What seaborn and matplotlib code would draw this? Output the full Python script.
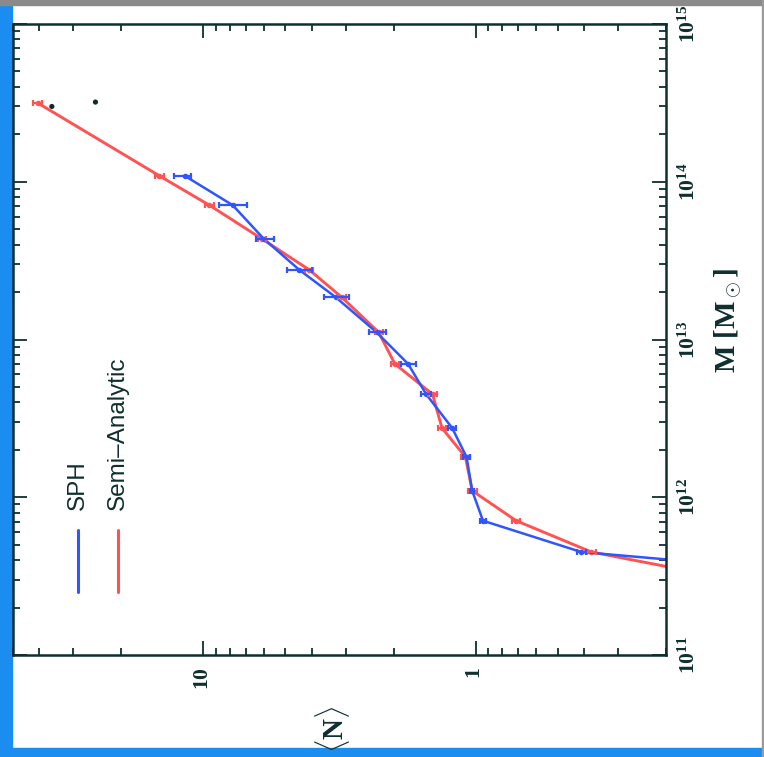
import matplotlib
matplotlib.use("Agg")
import matplotlib.pyplot as plt
from matplotlib.patches import Rectangle
from matplotlib.lines import Line2D
from matplotlib.ticker import FixedLocator, FixedFormatter, LogLocator, NullFormatter
import numpy as np
import pandas as pd
import seaborn as sns

# Halo mass bins [M_sun] (shared by both models)
mass = [3.16e14, 1.09e14, 7.1e13, 4.35e13, 2.77e13, 1.85e13, 1.11e13, 7.0e12,
        4.5e12, 2.75e12, 1.8e12, 1.1e12, 7.1e11, 4.5e11, 3.0e11]

# Mean number of galaxies per halo, semi-analytic model
n_sa = [40.6, 14.5, 9.5, 6.1, 4.09, 3.1, 2.27, 1.98, 1.44, 1.33, 1.09, 1.03,
        0.71, 0.376, 0.112]
n_sa_err = [1.5, 0.5, 0.35, 0.22, 0.15, 0.11, 0.08, 0.07, 0.05, 0.05, 0.04,
            0.04, 0.025, 0.013, 0.004]

# Mean number of galaxies per halo, SPH simulation (no top bin)
mass_sph = mass[1:]
n_sph = [11.7, 7.8, 6.0, 4.45, 3.26, 2.31, 1.77, 1.52, 1.22, 1.08, 1.03, 0.94,
         0.41, 0.028]
n_sph_lo = [0.63, 0.9, 0.5, 0.46, 0.34, 0.17, 0.11, 0.06, 0.04, 0.03, 0.02,
            0.02, 0.015, 0.001]
n_sph_hi = [1.07, 0.95, 0.4, 0.47, 0.34, 0.16, 0.11, 0.07, 0.04, 0.03, 0.02,
            0.02, 0.015, 0.001]

# Individual most-massive haloes
mass_single = [3.0e14, 3.2e14]
n_single = [36.0, 24.9]

m_ticks = [1e11, 1e12, 1e13, 1e14, 1e15]
m_tick_labels = [r"$10^{11}$", r"$10^{12}$", r"$10^{13}$", r"$10^{14}$", r"$10^{15}$"]
n_ticks = [1, 10]
n_tick_labels = [r"$1$", r"$10$"]

RED = "#ff5252"
BLUE = "#2f55ff"
INK = "#0f2e2e"

sns.set_theme(style="white")
plt.rcParams["font.family"] = ["Liberation Serif", "DejaVu Serif"]
plt.rcParams["mathtext.fontset"] = "custom"
plt.rcParams["mathtext.rm"] = "Liberation Serif:bold"
plt.rcParams["mathtext.it"] = "Liberation Serif:italic:bold"
plt.rcParams["mathtext.bf"] = "Liberation Serif:bold"

W, H = 764, 757
fig = plt.figure(figsize=(W / 100, H / 100), dpi=100)
fig.patch.set_facecolor("white")

# slide surround
fig.patches.append(Rectangle((0, 0), 12 / W, 1, transform=fig.transFigure,
                             color="#1b8df0", zorder=-5))
fig.patches.append(Rectangle((0, 0), 1, 9 / H, transform=fig.transFigure,
                             color="#1b8df0", zorder=-5))
fig.patches.append(Rectangle((0, 1 - 5 / H), 1, 5 / H, transform=fig.transFigure,
                             color="#8a8a8a", zorder=-5))
fig.patches.append(Rectangle((1 - 2 / W, 0), 2 / W, 1, transform=fig.transFigure,
                             color="#9a9a9a", zorder=-5))

ax = fig.add_axes([13 / W, 1 - 655 / H, 653 / W, 631 / H])
ax.set_facecolor("white")
ax.set_xscale("log")
ax.set_yscale("log")

df_sa = pd.DataFrame({"N": n_sa, "M": mass})
df_sph = pd.DataFrame({"N": n_sph, "M": mass_sph})
df_single = pd.DataFrame({"N": n_single, "M": mass_single})

sns.lineplot(data=df_sa, x="N", y="M", sort=False, estimator=None, color=RED,
             lw=2.1, marker="o", markersize=4, markeredgewidth=0, ax=ax)
sns.lineplot(data=df_sph, x="N", y="M", sort=False, estimator=None, color=BLUE,
             lw=1.8, marker="o", markersize=4, markeredgewidth=0, ax=ax)
ax.errorbar(n_sa, mass, xerr=n_sa_err, fmt="none", ecolor=RED,
            elinewidth=1.6, capsize=2.5, capthick=1.6)
ax.errorbar(n_sph, mass_sph, xerr=[n_sph_lo, n_sph_hi], fmt="none", ecolor=BLUE,
            elinewidth=1.6, capsize=2.5, capthick=1.6)
sns.scatterplot(data=df_single, x="N", y="M", color="#102a2a", s=14,
                edgecolor="none", ax=ax)

ax.set_xlim(50, 0.2)
ax.set_ylim(1e11, 1e15)

ax.xaxis.set_major_locator(FixedLocator(n_ticks))
ax.xaxis.set_major_formatter(FixedFormatter(n_tick_labels))
ax.xaxis.set_minor_locator(LogLocator(base=10, subs=np.arange(2, 10)))
ax.xaxis.set_minor_formatter(NullFormatter())
ax.yaxis.set_major_locator(FixedLocator(m_ticks))
ax.yaxis.set_major_formatter(FixedFormatter(m_tick_labels))
ax.yaxis.set_minor_locator(LogLocator(base=10, subs=np.arange(2, 10)))
ax.yaxis.set_minor_formatter(NullFormatter())

ax.tick_params(which="both", direction="in", top=True, bottom=True, left=True,
               right=True, labelleft=False, labelright=True, colors=INK,
               width=1.3)
ax.tick_params(which="major", length=10, labelsize=15.5, pad=9)
ax.tick_params(which="minor", length=5)
ax.tick_params(axis="x", labelrotation=90)
ax.tick_params(axis="y", labelrotation=90)
for lab in ax.get_yticklabels():
    lab.set_va("center")
    lab.set_ha("left")
for sp in ax.spines.values():
    sp.set_color(INK)
    sp.set_linewidth(1.8)

ax.set_xlabel(r"$\langle \mathrm{N} \rangle$", fontsize=21, rotation=90,
              color=INK)
ax.xaxis.set_label_coords(0.489, -0.079)
ax.xaxis.label.set_va("top")
ax.yaxis.set_label_position("right")
ax.set_ylabel(r"M [M$_\odot$]", fontsize=21, rotation=90, color=INK,
              fontweight="bold")
ax.yaxis.set_label_coords(1.095, 0.53)
ax.yaxis.label.set_va("center")

# legend, drawn along the rotated frame
for xa, col, txt in [(0.0995, BLUE, "SPH"), (0.161, RED, "Semi\u2013Analytic")]:
    ax.add_line(Line2D([xa, xa], [0.10, 0.198], transform=ax.transAxes,
                       color=col, lw=2.2))
    ax.text(xa, 0.230, txt, transform=ax.transAxes, rotation=90,
            ha="center", va="bottom", fontsize=17.5, color=INK,
            family=["Liberation Sans", "DejaVu Sans"])

fig.savefig("out.png", dpi=100, facecolor=fig.get_facecolor())
